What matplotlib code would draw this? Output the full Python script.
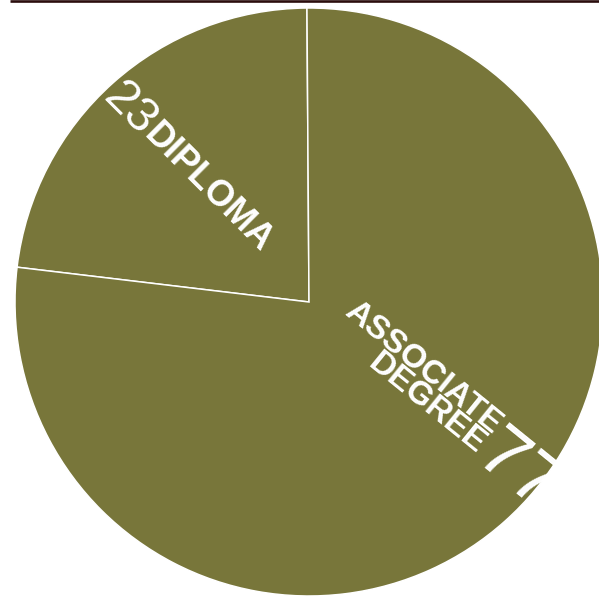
import numpy as np
import matplotlib
matplotlib.use("Agg")
import matplotlib.pyplot as plt

plt.rcParams["font.family"] = ["Liberation Sans", "DejaVu Sans"]

# ── Data ──────────────────────────────────────────────────────────────
labels = ["DIPLOMA", "ASSOCIATE\nDEGREE"]
values = [23, 77]

SLICE = "#78763A"
W, H = 599, 599
CX, CY, R = 309, 599 - 302, 294   # pie centre / radius in pixel units

fig = plt.figure(figsize=(W / 100, H / 100), dpi=100)
ax = fig.add_axes([0, 0, 1, 1])
ax.pie(values, colors=[SLICE, SLICE], startangle=90.4, counterclock=True,
       center=(CX, CY), radius=R, frame=True,
       wedgeprops=dict(edgecolor="white", linewidth=1.1))
ax.set_xlim(0, W)
ax.set_ylim(0, H)
ax.set_aspect("equal")
ax.axis("off")

# dark rule along the top
ax.plot([10, W], [H - 1.3, H - 1.3], color="#2B0D0D", lw=1.9,
        solid_capstyle="butt", clip_on=False)

# ── Labels (radial) ───────────────────────────────────────────────────
def px(x, y):
    return x, H - y

rot_a = -45
ax.text(*px(110, 90), str(values[0]), fontsize=35, color="white",
        rotation=rot_a, rotation_mode="anchor", ha="left", va="center")
ax.text(*px(149, 129), labels[0], fontsize=26, fontweight="bold",
        color="white", rotation=rot_a, rotation_mode="anchor",
        ha="left", va="center")

rot_b = -39
ax.text(*px(490, 438), labels[1], fontsize=24, fontweight="bold",
        color="white", rotation=rot_b, rotation_mode="anchor",
        ha="right", va="center", multialignment="right", linespacing=0.75)
ax.text(*px(484, 446), str(values[1]), fontsize=54, color="white",
        rotation=rot_b, rotation_mode="anchor", ha="left", va="center")

fig.savefig("out.png", dpi=100)
